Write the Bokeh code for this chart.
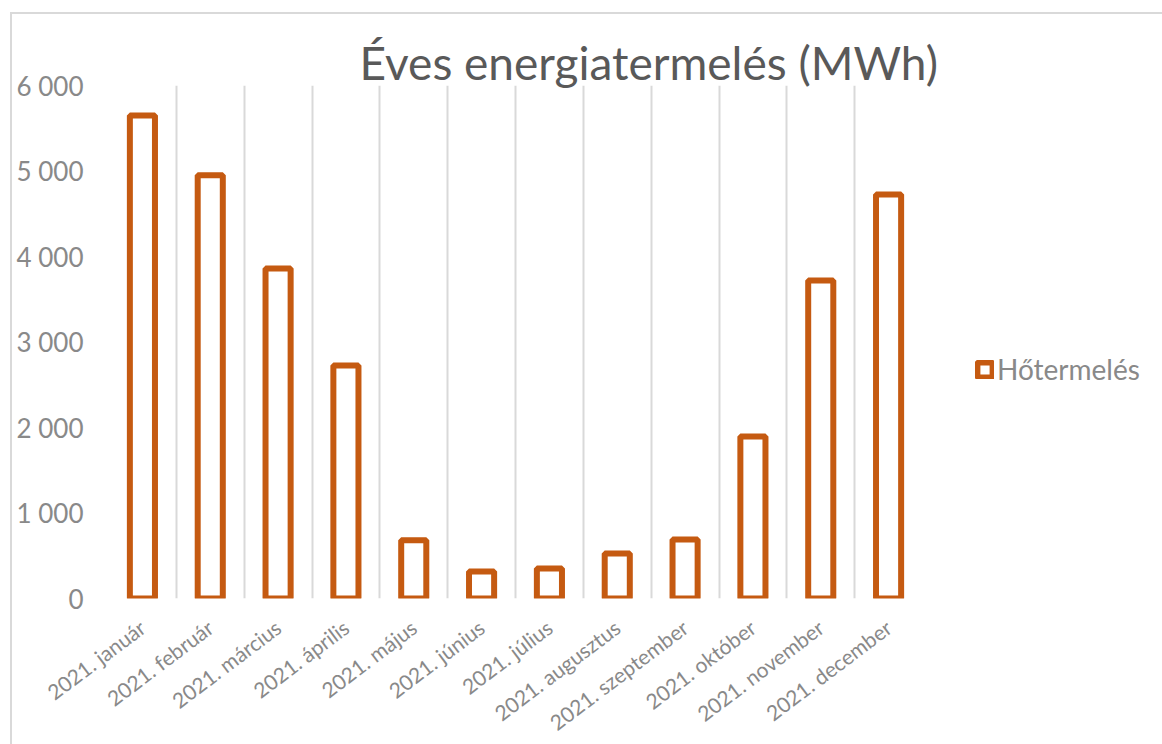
import math
from bokeh.plotting import figure
from bokeh.models import (FactorRange, Range1d, FixedTicker, Legend, LegendItem,
                          ColumnDataSource)
from bokeh.embed import file_html
from bokeh.resources import INLINE

# ---- data ----
months = ["2021. január", "2021. február", "2021. március", "2021. április",
          "2021. május", "2021. június", "2021. július", "2021. augusztus",
          "2021. szeptember", "2021. október", "2021. november", "2021. december"]
values = [5650, 4950, 3860, 2725, 680, 316, 350, 526, 690, 1895, 3719, 4725]
y_ticks = [0, 1000, 2000, 3000, 4000, 5000, 6000]
y_tick_labels = ["0", "1 000", "2 000", "3 000", "4 000", "5 000", "6 000"]
series_name = "Hőtermelés"
title_text = "Éves energiatermelés (MWh)"

BAR = "#C55A11"
GRAY_TXT = "#898989"
GRID = "#D9D9D9"
FONT = "Lato"

src = ColumnDataSource(dict(month=months, value=values))

# canvas placed at page (12, 14); a 2px light frame line drawn just outside it
p = figure(x_range=FactorRange(*months), y_range=Range1d(0, 6000),
           frame_width=814, frame_height=513,
           output_backend="svg", toolbar_location=None,
           min_border_left=96, min_border_right=232, min_border_top=71,
           min_border_bottom=138)
p.margin = (14, 0, 0, 12)
p.styles = {"box-shadow": "-2px -2px 0 0 #D9D9D9"}

p.outline_line_color = None
p.background_fill_color = "white"
p.border_fill_color = "white"

# title
p.title.text = title_text
p.title.align = "left"
p.title.offset = 251
p.title.text_font = FONT
p.title.text_font_size = "46px"
p.title.text_font_style = "normal"
p.title.text_color = "#595959"
p.title.standoff = -8

# bars
r = p.vbar(x="month", top="value", width=0.37, source=src,
           fill_color="white", line_color=BAR, line_width=6)

# grid: vertical lines at category boundaries
p.xgrid.ticker = FixedTicker(ticks=list(range(len(months) + 1)))
p.xgrid.grid_line_color = GRID
p.xgrid.grid_line_width = 2
p.ygrid.visible = False

# axes
for ax in (p.xaxis, p.yaxis):
    ax.axis_line_color = None
    ax.major_tick_line_color = None
    ax.minor_tick_line_color = None
    ax.major_label_text_color = GRAY_TXT
    ax.major_label_text_font = FONT

p.yaxis.ticker = FixedTicker(ticks=y_ticks)
p.yaxis.major_label_overrides = {t: l for t, l in zip(y_ticks, y_tick_labels)}
p.yaxis.major_label_text_font_size = "26px"
p.yaxis.major_label_standoff = 19

p.xaxis.major_label_orientation = math.radians(37)
p.xaxis.major_label_text_font_size = "21px"
p.xaxis.major_label_standoff = 20

# legend
legend = Legend(items=[LegendItem(label=series_name, renderers=[r])],
                location=(53, 212), orientation="vertical")
legend.border_line_color = None
legend.background_fill_alpha = 0
legend.padding = 0
legend.margin = 0
legend.glyph_width = 19
legend.glyph_height = 19
legend.label_standoff = 3
legend.label_text_font = FONT
legend.label_text_font_size = "28px"
legend.label_text_color = GRAY_TXT
p.add_layout(legend, "right")

open("out.html", "w").write(file_html(p, INLINE))
